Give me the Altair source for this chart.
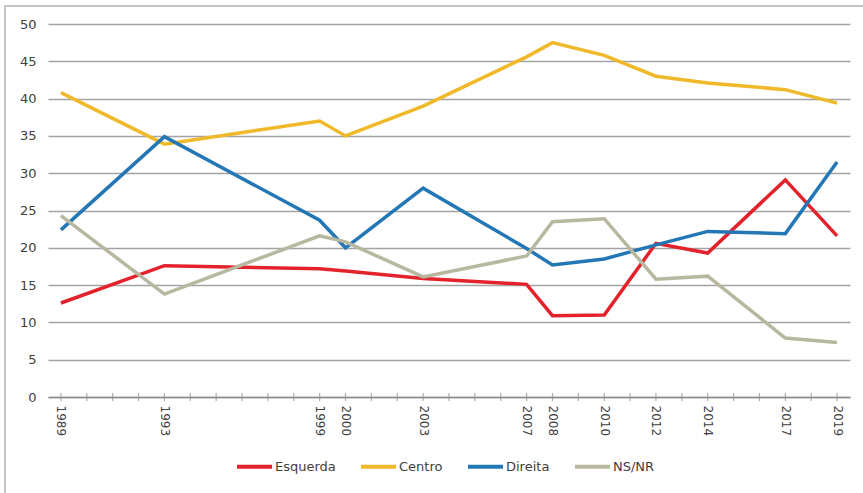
import altair as alt
import pandas as pd

# Survey years and share (%) per political self-placement
years = [1989, 1993, 1999, 2000, 2003, 2007, 2008, 2010, 2012, 2014, 2017, 2019]
esquerda = [12.6, 17.6, 17.2, 16.9, 15.9, 15.1, 10.9, 11.0, 20.6, 19.3, 29.1, 21.6]
centro = [40.8, 33.9, 37.0, 35.0, 39.0, 45.6, 47.5, 45.8, 43.0, 42.1, 41.2, 39.4]
direita = [22.4, 34.9, 23.7, 20.0, 28.0, 19.9, 17.7, 18.5, 20.4, 22.2, 21.9, 31.5]
nsnr = [24.3, 13.8, 21.6, 20.8, 16.1, 18.9, 23.5, 23.9, 15.8, 16.2, 7.9, 7.3]

series_names = ["Esquerda", "Centro", "Direita", "NS/NR"]
series_colors = ["#e3222b", "#f0b92a", "#2477b5", "#b8b7a0"]
y_values = [0, 5, 10, 15, 20, 25, 30, 35, 40, 45, 50]
tick_years = list(range(1989, 2020))

rows = []
for name, vals in zip(series_names, [esquerda, centro, direita, nsnr]):
    for yr, v in zip(years, vals):
        rows.append({"ano": yr, "valor": v, "serie": name})
df = pd.DataFrame(rows)

x_scale = alt.Scale(domain=[1988.5, 2019.5], nice=False, zero=False)
y_scale = alt.Scale(domain=[0, 50], nice=False)

x_axis = alt.Axis(
    values=years,
    format="d",
    title=None,
    grid=False,
    ticks=False,
    domain=True,
    domainColor="#8c8c8c",
    domainWidth=1.3,
    labelAngle=90,
    labelAlign="left",
    labelBaseline="middle",
    labelPadding=8,
    labelFont="DejaVu Sans",
    labelFontSize=12,
    labelColor="#404040",
    labelOverlap=False,
    labelFlush=False,
)
y_axis = alt.Axis(
    values=y_values,
    title=None,
    domain=False,
    ticks=False,
    grid=True,
    gridColor="#a3a3a3",
    gridWidth=1.3,
    labelPadding=12,
    labelOverlap=False,
    labelFont="DejaVu Sans",
    labelFontSize=13,
    labelColor="#404040",
)

lines = alt.Chart(df).mark_line(strokeWidth=3.5, clip=False).encode(
    x=alt.X("ano:Q", scale=x_scale, axis=x_axis),
    y=alt.Y("valor:Q", scale=y_scale, axis=y_axis),
    color=alt.Color(
        "serie:N",
        scale=alt.Scale(domain=series_names, range=series_colors),
        legend=alt.Legend(
            title=None,
            orient="none",
            direction="horizontal",
            legendX=187,
            legendY=423,
            symbolType="stroke",
            symbolSize=1225,
            symbolStrokeWidth=4,
            labelOffset=1,
            columnPadding=17,
            labelFont="DejaVu Sans",
            labelFontSize=13,
            labelColor="#404040",
        ),
    ),
    order=alt.Order("ano:Q"),
)

# Year tick marks crossing the horizontal axis line
ticks = alt.Chart(pd.DataFrame({"ano": tick_years})).mark_tick(
    orient="vertical", size=8, thickness=1.2, color="#8c8c8c"
).encode(
    x=alt.X("ano:Q", scale=x_scale, axis=x_axis),
    y=alt.YDatum(0, scale=y_scale, axis=y_axis),
)

# Light border around the whole figure
frame = alt.Chart(pd.DataFrame({"k": [0]})).mark_rect(
    fill=None, stroke="#c4c4c4", strokeWidth=2, clip=False
).encode(
    x=alt.value(-43),
    x2=alt.value(830),
    y=alt.value(-18),
    y2=alt.value(480),
)

chart = alt.layer(frame, lines, ticks).properties(
    width=802,
    height=373,
    autosize=alt.AutoSizeParams(type="none"),
    padding={"left": 48, "top": 24, "right": 13, "bottom": 96},
    background="white",
).configure_view(stroke=None)

chart.save("out.html", embed_options={"renderer": "svg", "actions": False})
